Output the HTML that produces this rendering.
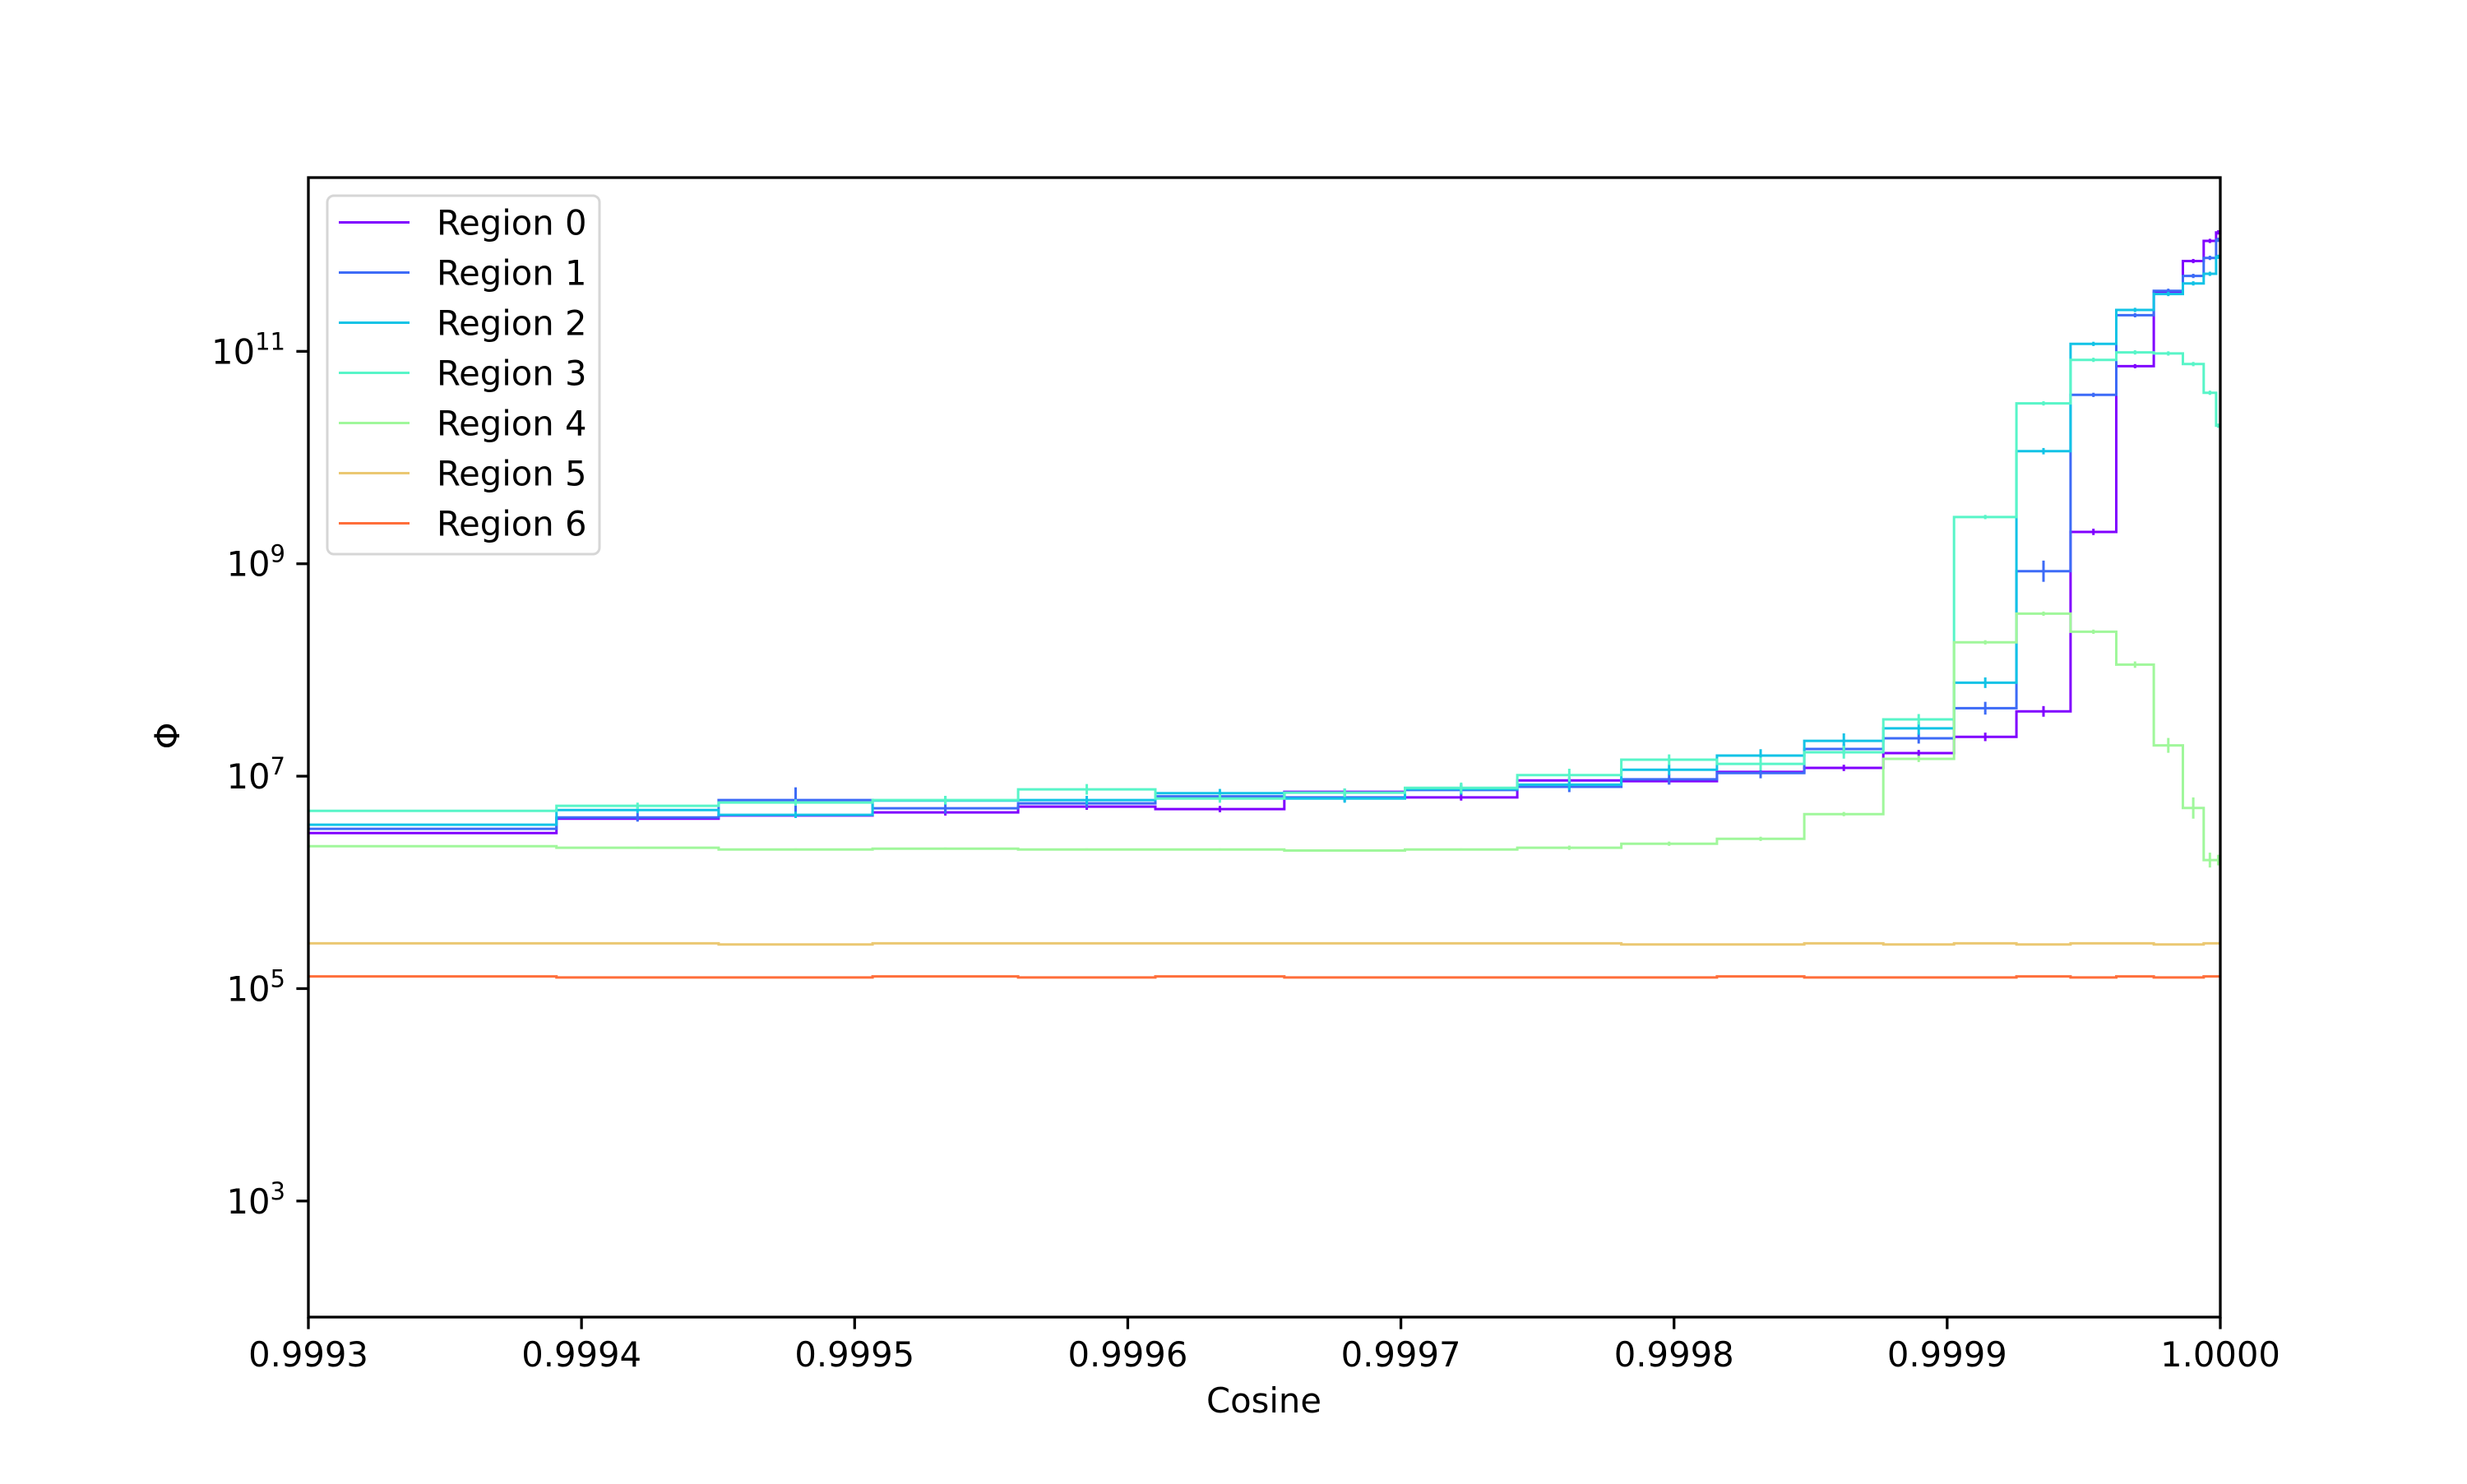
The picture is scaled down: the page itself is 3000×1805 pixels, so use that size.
<!DOCTYPE html>
<html><head><meta charset="utf-8"><style>
html,body{margin:0;padding:0;background:#fff;}
svg text{font-family:"DejaVu Sans","Liberation Sans",sans-serif;}
</style></head><body>
<svg id="chart" width="3000" height="1800" viewBox="0 0 3000 1800" xmlns="http://www.w3.org/2000/svg">
<defs><clipPath id="plotclip"><rect x="375" y="216" width="2325" height="1386"/></clipPath></defs>
<rect x="0" y="0" width="3000" height="1800" fill="#fff"/>
<g id="series" clip-path="url(#plotclip)"></g>
<g id="axes"></g>
<g id="legend"></g>
</svg>
<script>
// bin edges in degrees (cosine = cos(angle))
const edgesDeg = [3.0,2.0,1.9,1.8,1.7,1.6,1.5,1.4,1.3,1.2,1.1,1.0,0.9,0.8,0.7,0.6,0.5,0.4,0.3,0.2,0.1,0.0];
const seriesNames = ["Region 0","Region 1","Region 2","Region 3","Region 4","Region 5","Region 6"];
const seriesColors = ["#8000ff","#3d6bf7","#12c3e6","#58f5c8","#a0f79b","#ebc872","#ff6e3a"];
// log10(Phi) per bin
const r0 = [6.465,6.60,6.63,6.659,6.713,6.69,6.853,6.80,6.96,6.953,7.04,7.078,7.217,7.37,7.61,9.30,10.86,11.55,11.85,12.04,12.12];
const r1 = [6.504,6.612,6.775,6.698,6.744,6.81,6.80,6.87,6.90,6.97,7.03,7.256,7.357,7.64,8.93,10.59,11.34,11.57,11.71,11.88,12.05];
const r2 = [6.543,6.682,6.636,6.77,6.775,6.84,6.79,6.88,6.92,7.06,7.194,7.333,7.45,7.88,10.06,11.07,11.39,11.54,11.64,11.73,11.89];
const r3 = [6.674,6.721,6.752,6.775,6.876,6.79,6.845,6.89,7.01,7.155,7.116,7.225,7.535,9.44,10.51,10.92,10.99,10.98,10.88,10.61,10.30];
const r4 = [6.341,6.326,6.31,6.318,6.31,6.31,6.30,6.31,6.326,6.364,6.41,6.643,7.163,8.26,8.53,8.36,8.05,7.29,6.70,6.21,6.21];
const r5 = [5.426,5.426,5.416,5.426,5.426,5.426,5.426,5.426,5.426,5.416,5.416,5.426,5.416,5.426,5.416,5.426,5.426,5.416,5.416,5.426,5.426];
const r6 = [5.115,5.105,5.105,5.115,5.105,5.115,5.105,5.105,5.105,5.105,5.115,5.105,5.105,5.105,5.115,5.105,5.115,5.105,5.105,5.115,5.115];
// error half-lengths (log10 units)
const e0 = [0.02,0.02,0.02,0.03,0.03,0.03,0.03,0.03,0.03,0.03,0.03,0.03,0.03,0.04,0.05,0.03,0.02,0.02,0.02,0.02,0.02];
const e1 = [0.02,0.04,0.12,0.05,0.04,0.04,0.04,0.05,0.05,0.05,0.05,0.05,0.05,0.06,0.10,0.02,0.02,0.02,0.02,0.02,0.02];
const e2 = [0.02,0.03,0.03,0.04,0.04,0.04,0.04,0.05,0.05,0.05,0.06,0.07,0.06,0.05,0.03,0.02,0.02,0.02,0.02,0.02,0.02];
const e3 = [0.02,0.03,0.03,0.04,0.05,0.04,0.04,0.05,0.06,0.05,0.06,0.06,0.05,0.02,0.02,0.02,0.02,0.02,0.02,0.02,0.02];
const e4 = [0.01,0.01,0.01,0.01,0.01,0.01,0.01,0.01,0.02,0.02,0.02,0.02,0.03,0.02,0.02,0.02,0.03,0.07,0.10,0.07,0.05];
const e5 = [0,0,0,0,0,0,0,0,0,0,0,0,0,0,0,0,0,0,0,0,0];
const e6 = [0,0,0,0,0,0,0,0,0,0,0,0,0,0,0,0,0,0,0,0,0];
const xTicks = [0.9993,0.9994,0.9995,0.9996,0.9997,0.9998,0.9999,1.0000];
const xTickLabels = ["0.9993","0.9994","0.9995","0.9996","0.9997","0.9998","0.9999","1.0000"];
const yTickExps = [3,5,7,9,11];

const allVals=[r0,r1,r2,r3,r4,r5,r6], allErr=[e0,e1,e2,e3,e4,e5,e6];
const L=375,R=2700,T=216,B=1602, xMin=0.9993,xMax=1.0, yMinE=1.907,yMaxE=12.636;
const NS="http://www.w3.org/2000/svg";
function xS(c){return L+(c-xMin)/(xMax-xMin)*(R-L);}
function yS(e){return B-(e-yMinE)/(yMaxE-yMinE)*(B-T);}
function cosd(d){return Math.cos(d*Math.PI/180);}
function mk(tag,attrs,parent){const el=document.createElementNS(NS,tag);for(const k in attrs)el.setAttribute(k,attrs[k]);parent.appendChild(el);return el;}

const sg=document.getElementById('series');
const edgesCos=edgesDeg.map(cosd);
for(let s=0;s<allVals.length;s++){
  const v=allVals[s],er=allErr[s],col=seriesColors[s];
  const g=mk('g',{},sg);
  
  
  let d='';
  for(let i=0;i<v.length;i++){
    const x0=xS(edgesCos[i]),x1=xS(edgesCos[i+1]),y=yS(v[i]);
    d+=(i===0?'M':'L')+x0.toFixed(1)+' '+y.toFixed(1)+' L'+x1.toFixed(1)+' '+y.toFixed(1)+' ';
  }
  const p=mk('path',{d:d,fill:'none',stroke:col,'stroke-width':3,'stroke-linejoin':'miter'},g);
  
  
  for(let i=0;i<v.length;i++){
    if(!er[i])continue;
    const xc=xS((edgesCos[i]+edgesCos[i+1])/2);
    const ln=mk('line',{x1:xc,x2:xc,y1:yS(v[i]+er[i]),y2:yS(v[i]-er[i]),stroke:col,'stroke-width':3},g);
    
    
  }
}

const ag=document.getElementById('axes');
const frame=mk('rect',{x:L,y:T,width:R-L,height:B-T,fill:'none',stroke:'#000','stroke-width':3.3},ag);


for(let i=0;i<xTicks.length;i++){
  const x=xS(xTicks[i]);
  const t=mk('line',{x1:x,x2:x,y1:B,y2:B+14.6,stroke:'#000','stroke-width':3.3},ag);
  
  
  const tx=mk('text',{x:x,y:1662,'text-anchor':'middle','font-size':41.7,fill:'#000'},ag);
  tx.textContent=xTickLabels[i];
  
  
}
for(const e of yTickExps){
  const y=yS(e);
  const t=mk('line',{x1:L-14.6,x2:L,y1:y,y2:y,stroke:'#000','stroke-width':3.3},ag);
  
  
  const tx=mk('text',{x:347,y:y+15,'text-anchor':'end','font-size':41.7,fill:'#000'},ag);
  
  
  const a=mk('tspan',{},tx);a.textContent='10';
  const b=mk('tspan',{dy:-17,'font-size':29},tx);b.textContent=String(e);
}
const xl=mk('text',{x:1537,y:1718,'text-anchor':'middle','font-size':41.7,fill:'#000'},ag);
xl.textContent='Cosine';


const yl=mk('text',{x:232,y:909,'text-anchor':'middle','font-size':41.7,fill:'#000',transform:'rotate(-90 218 909)'},ag);
yl.textContent='Φ';



const lg=document.getElementById('legend');
const box=mk('rect',{x:398,y:238,width:331,height:436,rx:8,ry:8,fill:'#fff','fill-opacity':0.8,stroke:'#d6d6d6','stroke-width':3},lg);


for(let s=0;s<seriesNames.length;s++){
  const y=270.5+61*s;
  const eg=mk('g',{},lg);
  
  
  mk('line',{x1:412,x2:498,y1:y,y2:y,stroke:seriesColors[s],'stroke-width':3},eg);
  const t=mk('text',{x:531,y:y+15,'font-size':41.7,fill:'#000'},eg);
  t.textContent=seriesNames[s];
}
</script>
</body></html>
